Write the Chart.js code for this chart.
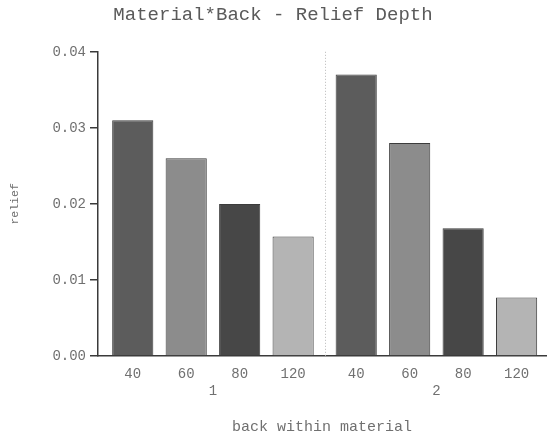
<!DOCTYPE html>
<html>
<head>
<meta charset="utf-8">
<script src="https://cdn.jsdelivr.net/npm/chart.js@4.4.1/dist/chart.umd.min.js"></script>
<style>
  html, body { margin: 0; padding: 0; background: #fff; }
  #wrap { width: 547px; height: 436px; }
</style>
</head>
<body>
<div id="wrap"><canvas id="chart" width="547" height="436"></canvas></div>
<script>
// Mean relief depth for each back level, within each material
const materials = ['1', '2'];
const backLevels = ['40', '60', '80', '120'];
const reliefMaterial1 = [0.031, 0.026, 0.020, 0.0157];
const reliefMaterial2 = [0.037, 0.028, 0.0168, 0.0077];
const yTickValues = [0, 0.01, 0.02, 0.03, 0.04];

const reliefByMaterial = [reliefMaterial1, reliefMaterial2];
const backFills = ['#5c5c5c', '#8c8c8c', '#474747', '#b4b4b4'];

// extra space (in bar slots) between the two material groups
const GROUP_GAP = 0.18;
const groupStart = g => g * (backLevels.length + GROUP_GAP);

const points = [];
const fills = [];
const tickLabelAt = new Map();
reliefByMaterial.forEach((series, g) => {
  series.forEach((v, i) => {
    const x = groupStart(g) + i;
    points.push({ x: x, y: v });
    fills.push(backFills[i]);
    tickLabelAt.set(x.toFixed(3), backLevels[i]);
  });
});
const groupCenters = materials.map((m, g) => groupStart(g) + (backLevels.length - 1) / 2);
const groupLabelAt = new Map(groupCenters.map((c, g) => [c.toFixed(3), materials[g]]));
const separatorX = (groupStart(0) + backLevels.length - 1 + groupStart(1)) / 2;
const X_MIN = -0.65;
const X_MAX = groupStart(1) + backLevels.length - 1 + 0.55;

const FONT = "'Liberation Mono', 'DejaVu Sans Mono', monospace";
const TEXT = '#707070';
const AXIS = '#3a3a3a';

const separatorPlugin = {
  id: 'groupSeparator',
  beforeDatasetsDraw(chart) {
    const { ctx, chartArea, scales } = chart;
    const px = Math.round(scales.x.getPixelForValue(separatorX)) + 0.5;
    ctx.save();
    ctx.strokeStyle = '#b8b8b8';
    ctx.lineWidth = 1;
    ctx.setLineDash([1, 2]);
    ctx.beginPath();
    ctx.moveTo(px, chartArea.top);
    ctx.lineTo(px, chartArea.bottom);
    ctx.stroke();
    ctx.restore();
  }
};

new Chart(document.getElementById('chart'), {
  type: 'bar',
  data: {
    datasets: [{
      data: points,
      backgroundColor: fills,
      borderColor: '#3c3c3c',
      borderWidth: 1,
      categoryPercentage: 1,
      barPercentage: 0.77,
      xAxisID: 'x',
      yAxisID: 'y'
    }]
  },
  options: {
    responsive: false,
    animation: false,
    devicePixelRatio: 1,
    layout: { padding: { left: 0, right: 1, top: 0, bottom: 0 } },
    plugins: {
      legend: { display: false },
      tooltip: { enabled: false },
      title: {
        display: true,
        text: 'Material*Back - Relief Depth',
        color: '#5a5a5a',
        font: { family: FONT, size: 19, weight: 'normal' },
        padding: { top: 4, bottom: 25 }
      }
    },
    scales: {
      x: {
        type: 'linear',
        position: 'bottom',
        offset: false,
        min: X_MIN,
        max: X_MAX,
        afterBuildTicks(scale) {
          scale.ticks = points.map(p => ({ value: p.x }));
        },
        afterFit(scale) {
          scale.height = 27;
        },
        ticks: {
          color: TEXT,
          font: { family: FONT, size: 14 },
          padding: 10,
          autoSkip: false,
          maxRotation: 0,
          callback: v => tickLabelAt.get(Number(v).toFixed(3)) || ''
        },
        grid: { display: false, drawTicks: false, tickLength: 0 },
        border: { display: true, color: AXIS, width: 1.5 }
      },
      group: {
        type: 'linear',
        position: 'bottom',
        offset: false,
        min: X_MIN,
        max: X_MAX,
        afterBuildTicks(scale) {
          scale.ticks = groupCenters.map(c => ({ value: c }));
        },
        afterFit(scale) {
          scale.height = 53;
        },
        ticks: {
          color: TEXT,
          font: { family: FONT, size: 14 },
          padding: 0,
          autoSkip: false,
          maxRotation: 0,
          callback: v => groupLabelAt.get(Number(v).toFixed(3)) || ''
        },
        grid: { display: false, drawTicks: false, tickLength: 0 },
        border: { display: false },
        title: {
          display: true,
          text: 'back within material',
          color: TEXT,
          font: { family: FONT, size: 15 },
          padding: { top: 0, bottom: 0 }
        }
      },
      y: {
        type: 'linear',
        min: 0,
        max: 0.04,
        afterBuildTicks(scale) {
          scale.ticks = yTickValues.map(v => ({ value: v }));
        },
        afterFit(scale) {
          scale.width = 98;
        },
        ticks: {
          color: TEXT,
          font: { family: FONT, size: 14 },
          padding: 4,
          callback: v => Number(v).toFixed(2)
        },
        grid: {
          drawOnChartArea: false,
          drawTicks: true,
          tickLength: 8,
          color: AXIS,
          lineWidth: 1.5
        },
        border: { display: true, color: AXIS, width: 1.5 },
        title: {
          display: true,
          text: 'relief',
          color: TEXT,
          font: { family: FONT, size: 11.5 },
          padding: { top: 8, bottom: 0 }
        }
      }
    }
  },
  plugins: [separatorPlugin]
});
</script>
</body>
</html>
